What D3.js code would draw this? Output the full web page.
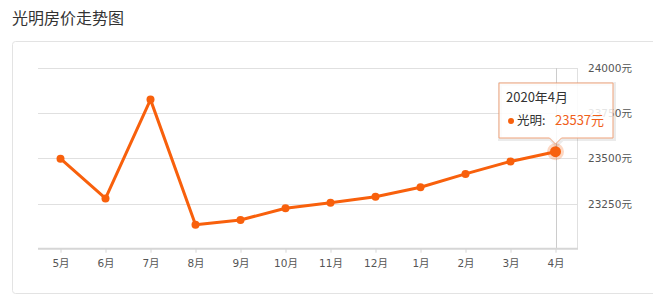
<!DOCTYPE html>
<html>
<head>
<meta charset="utf-8">
<script src="https://cdn.jsdelivr.net/npm/d3@7"></script>
<style>
  body { margin: 0; background: #fff; font-family: "Noto Sans CJK SC", sans-serif; }
  svg { display: block; }
</style>
</head>
<body>
<script>
const months = ['5月', '6月', '7月', '8月', '9月', '10月', '11月', '12月', '1月', '2月', '3月', '4月'];
const prices = [23498, 23278, 23825, 23133, 23159, 23224, 23254, 23288, 23340, 23414, 23483, 23537];
const yTicks = [23250, 23500, 23750, 24000];
const seriesName = '光明';
const tipTitle = '2020年4月';

(function () {
const width = 653, height = 306;
const svg = d3.select('body').append('svg')
    .attr('width', width)
    .attr('height', height);

// title
svg.append('text')
    .attr('x', 12).attr('y', 24)
    .attr('font-size', 16)
    .attr('fill', '#333')
    .text('光明房价走势图');

// panel box
svg.append('rect')
    .attr('x', 12.5).attr('y', 41.5)
    .attr('width', 660).attr('height', 252)
    .attr('rx', 3)
    .attr('fill', 'none')
    .attr('stroke', '#e3e3e3');

const plotLeft = 38, plotRight = 578, plotTop = 68, plotBottom = 248.7;
const x = d3.scalePoint().domain(months).range([plotLeft, plotRight]).padding(0.5);
const y = d3.scaleLinear().domain([23000, 24000]).range([plotBottom, plotTop]);

// horizontal grid
svg.append('g').selectAll('line')
    .data(yTicks)
    .enter().append('line')
    .attr('x1', plotLeft).attr('x2', plotRight)
    .attr('y1', d => Math.round(y(d)) + 0.5)
    .attr('y2', d => Math.round(y(d)) + 0.5)
    .attr('stroke', '#e0e0e0');

// right border line
svg.append('line')
    .attr('x1', plotRight - 0.5).attr('x2', plotRight - 0.5)
    .attr('y1', plotTop).attr('y2', plotBottom)
    .attr('stroke', '#e0e0e0');

// y labels on right
svg.append('g').selectAll('text')
    .data(yTicks)
    .enter().append('text')
    .attr('x', 588)
    .attr('y', d => y(d) + 4)
    .attr('font-size', 10.5)
    .attr('font-family', '"DejaVu Sans", "Noto Sans CJK SC", sans-serif')
    .attr('fill', '#555')
    .text(d => d + '元');

// crosshair for highlighted point
const last = months.length - 1;
svg.append('line')
    .attr('x1', Math.round(x(months[last])) + 0.5)
    .attr('x2', Math.round(x(months[last])) + 0.5)
    .attr('y1', plotTop).attr('y2', plotBottom)
    .attr('stroke', '#ccc');

// bottom axis
const xAxis = svg.append('g')
    .attr('transform', `translate(0,${plotBottom})`)
    .call(d3.axisBottom(x).tickSize(4).tickSizeOuter(0));
xAxis.select('.domain')
    .attr('stroke', '#d6d6d6')
    .attr('stroke-width', 2)
    .attr('d', `M${plotLeft},0H${plotRight}`);
xAxis.selectAll('.tick line').attr('stroke', '#d6d6d6');
xAxis.selectAll('.tick text')
    .attr('y', 11)
    .attr('font-size', 10.5)
    .attr('font-family', '"DejaVu Sans", "Noto Sans CJK SC", sans-serif')
    .attr('fill', '#555');

// line
const line = d3.line()
    .x((d, i) => x(months[i]))
    .y(d => y(d));
svg.append('path')
    .datum(prices)
    .attr('d', line)
    .attr('fill', 'none')
    .attr('stroke', '#f8600c')
    .attr('stroke-width', 3)
    .attr('stroke-linejoin', 'round');

svg.append('g').selectAll('circle')
    .data(prices)
    .enter().append('circle')
    .attr('cx', (d, i) => x(months[i]))
    .attr('cy', d => y(d))
    .attr('r', 4)
    .attr('fill', '#f8600c');

// highlighted point
const hx = x(months[last]), hy = y(prices[last]);
svg.append('circle')
    .attr('cx', hx).attr('cy', hy).attr('r', 8.5)
    .attr('fill', '#f8600c').attr('opacity', 0.25);
svg.append('circle')
    .attr('cx', hx).attr('cy', hy).attr('r', 5.5)
    .attr('fill', '#f8600c');

// tooltip (semi-transparent, axis label shows through like the original)
const tip = svg.append('g');
const tx = 499, ty = 83, tw = 114, th = 55;
const tipPath = `M${tx},${ty}H${tx + tw}V${ty + th}H${hx + 6}L${hx},${ty + th + 6}L${hx - 6},${ty + th}H${tx}Z`;
tip.append('path')
    .attr('d', tipPath)
    .attr('fill', 'none')
    .attr('stroke', '#000')
    .attr('stroke-opacity', 0.08)
    .attr('stroke-width', 4)
    .attr('transform', 'translate(1,1)');
tip.append('path')
    .attr('d', tipPath)
    .attr('fill', 'rgba(255,255,255,0.85)')
    .attr('stroke', '#f2a57c')
    .attr('stroke-width', 1);
tip.append('text')
    .attr('x', tx + 7).attr('y', ty + 19)
    .attr('font-size', 13)
    .attr('fill', '#333')
    .text(tipTitle);
tip.append('circle')
    .attr('cx', tx + 12).attr('cy', ty + 38).attr('r', 3)
    .attr('fill', '#f8600c');
tip.append('text')
    .attr('x', tx + 18).attr('y', ty + 42)
    .attr('font-size', 12.5)
    .attr('fill', '#333')
    .text(seriesName + ':');
tip.append('text')
    .attr('x', tx + 56).attr('y', ty + 42)
    .attr('font-size', 13)
    .attr('fill', '#f0601a')
    .text(prices[last] + '元');
})();
</script>
</body>
</html>
